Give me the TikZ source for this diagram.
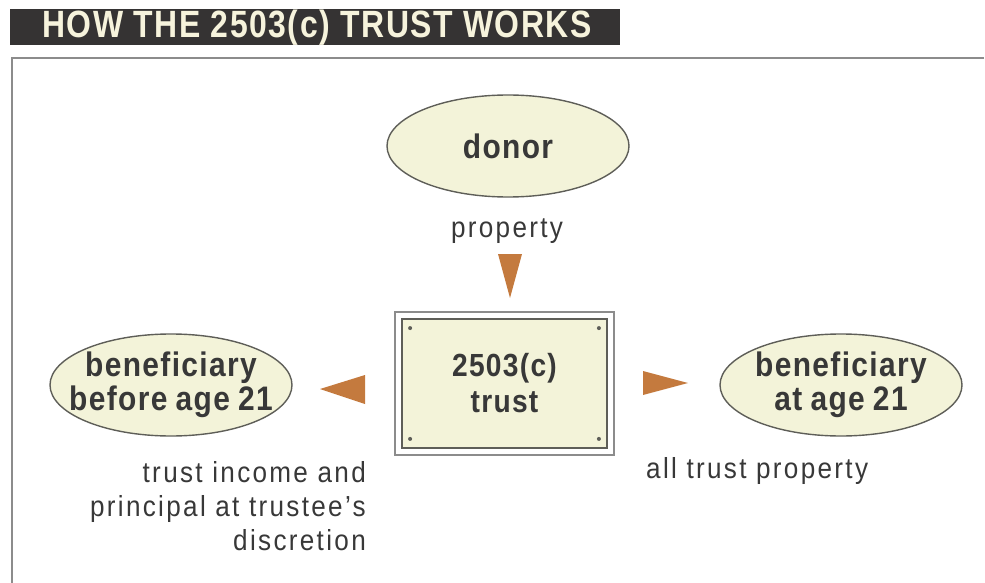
\documentclass[tikz,border=0pt]{standalone}
\usepackage{fontspec}
\setmainfont{Liberation Sans}
\newfontfamily\notefont{Liberation Sans}[FakeStretch=0.9,LetterSpace=8]
\newfontfamily\labelfont{Liberation Sans}[FakeStretch=0.88,LetterSpace=4,WordSpace=0.85]
\newfontfamily\titlefont{Liberation Sans}[FakeStretch=0.84,LetterSpace=4]
\usepackage{xcolor}
\definecolor{cream}{HTML}{F3F3D9}
\definecolor{barcolor}{HTML}{353333}
\definecolor{titletext}{HTML}{F6F3DC}
\definecolor{ink}{HTML}{383838}
\definecolor{rust}{HTML}{C47A3E}
\definecolor{rim}{HTML}{5E5E58}
\definecolor{framegray}{HTML}{8C8C8C}
\usetikzlibrary{shapes.geometric}
\usetikzlibrary{positioning}
\usetikzlibrary{calc}

\tikzset{
	party/.style={ellipse, draw=rim, line width=1.4pt, fill=cream, inner xsep=-20pt, inner ysep=-6pt,
		minimum width=242pt, minimum height=102pt, align=center, text=ink,
		font=\labelfont\bfseries\fontsize{34}{34}\selectfont},
	note/.style={inner sep=0pt, text=ink, font=\notefont\fontsize{29}{34}\selectfont},
	pointer/.style={fill=rust},
	trustbox/.style={rectangle, draw=rim, line width=1.8pt, fill=cream, inner sep=0pt,
		minimum width=205pt, minimum height=129pt, align=center, text=ink,
		font=\labelfont\bfseries\fontsize{32}{36}\selectfont},
}

\begin{document}
\begin{tikzpicture}[x=1pt, y=-1pt]
		\useasboundingbox (0,0) rectangle (985,583);

		%Titelbalken
		\fill [barcolor] (10,9) rectangle (620,45);
		\node [text=titletext, font=\titlefont\bfseries\fontsize{38}{38}\selectfont, inner sep=0pt] (title) at (317,28) {HOW THE 2503(c) TRUST WORKS};

		%Rahmen
		\draw [framegray, line width=2.5pt] (984,58) -- (12,58) -- (12,583);

		%Knoten
		\node [party] (donor) at (508,146) {donor};
		\node [party] (before) at (171,385) {beneficiary\\before age 21};
		\node [party] (atage) at (841,385) {beneficiary\\at age 21};

		%Trust mit Doppelrand und Punkten
		\node [trustbox] (trust) at (504.5,383.5) {2503(c)\\trust};
		\draw [framegray, line width=1.5pt] ([shift={(-6pt,6pt)}]trust.north west) rectangle ([shift={(6pt,-6pt)}]trust.south east);
		\foreach \c/\dx/\dy in {north west/9/-10, north east/-9/-10, south west/9/10, south east/-9/10}
			\fill [rim] ([shift={(\dx pt,\dy pt)}]trust.\c) circle (2pt);

		%Beschriftungen
		\node [note] (property) at (507,231) {property};
		\node [note, align=right, anchor=east] (income) at (366,506) {trust income and\\principal at trustee’s\\discretion};
		\node [note, anchor=west] (alltrust) at (646,471) {all trust property};

		%Pfeilspitzen
		\coordinate (tipdown) at (510,298);
		\coordinate (tipleft) at (320,389);
		\coordinate (tipright) at (688,383);
		\fill [pointer] (tipdown) -- ++(-12,-44) -- ++(24,0) -- cycle;
		\fill [pointer] (tipleft) -- ++(45,-14) -- ++(0,29) -- cycle;
		\fill [pointer] (tipright) -- ++(-45,-12) -- ++(0,24) -- cycle;
\end{tikzpicture}
\end{document}
